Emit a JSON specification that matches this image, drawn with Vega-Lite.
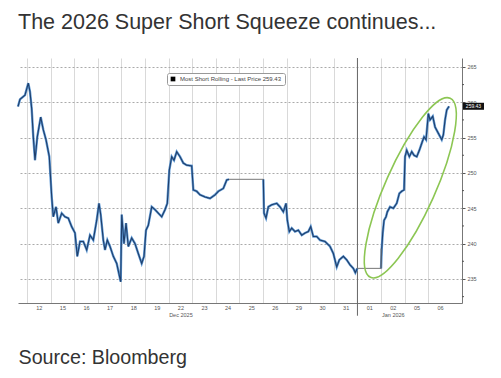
{
  "$schema": "https://vega.github.io/schema/vega-lite/v6.json",
  "width": 444,
  "height": 245,
  "autosize": {"type": "none"},
  "padding": {"left": 18, "top": 58, "right": 39, "bottom": 75},
  "background": "white",
  "config": {"view": {"stroke": null}, "font": "Liberation Sans"},
  "title": {
    "text": "The 2026 Super Short Squeeze continues...",
    "anchor": "start",
    "frame": "group",
    "font": "Liberation Sans",
    "fontSize": 21.5,
    "fontWeight": "normal",
    "color": "#333333",
    "offset": 24
  },
  "datasets": {
    "price": [
      {"x": -0.381, "v": 259.4, "seg": 1}, {"x": -0.297, "v": 260.4, "seg": 1}, {"x": -0.085, "v": 261.0, "seg": 1},
      {"x": 0.055, "v": 262.7, "seg": 1}, {"x": 0.127, "v": 261.5, "seg": 1}, {"x": 0.199, "v": 259.1, "seg": 1},
      {"x": 0.267, "v": 255.1, "seg": 1}, {"x": 0.339, "v": 251.8, "seg": 1}, {"x": 0.436, "v": 255.1, "seg": 1},
      {"x": 0.581, "v": 257.9, "seg": 1}, {"x": 0.691, "v": 256.1, "seg": 1}, {"x": 0.805, "v": 254.7, "seg": 1},
      {"x": 0.945, "v": 252.3, "seg": 1}, {"x": 1.047, "v": 246.6, "seg": 1}, {"x": 1.114, "v": 243.8, "seg": 1},
      {"x": 1.229, "v": 245.2, "seg": 1}, {"x": 1.326, "v": 242.9, "seg": 1}, {"x": 1.47, "v": 244.3, "seg": 1},
      {"x": 1.61, "v": 243.8, "seg": 1}, {"x": 1.75, "v": 243.6, "seg": 1}, {"x": 1.894, "v": 242.4, "seg": 1},
      {"x": 2.034, "v": 241.5, "seg": 1}, {"x": 2.131, "v": 238.2, "seg": 1}, {"x": 2.246, "v": 240.3, "seg": 1},
      {"x": 2.386, "v": 240.3, "seg": 1}, {"x": 2.53, "v": 239.1, "seg": 1}, {"x": 2.669, "v": 241.2, "seg": 1},
      {"x": 2.809, "v": 240.5, "seg": 1}, {"x": 2.953, "v": 243.3, "seg": 1}, {"x": 3.051, "v": 245.7, "seg": 1},
      {"x": 3.123, "v": 244.1, "seg": 1}, {"x": 3.233, "v": 240.5, "seg": 1}, {"x": 3.305, "v": 239.1, "seg": 1},
      {"x": 3.403, "v": 240.5, "seg": 1}, {"x": 3.517, "v": 239.6, "seg": 1}, {"x": 3.657, "v": 238.2, "seg": 1},
      {"x": 3.801, "v": 237.2, "seg": 1}, {"x": 3.97, "v": 234.6, "seg": 1}, {"x": 4.013, "v": 244.1, "seg": 1},
      {"x": 4.11, "v": 240.0, "seg": 1}, {"x": 4.195, "v": 242.9, "seg": 1}, {"x": 4.292, "v": 239.6, "seg": 1},
      {"x": 4.436, "v": 240.8, "seg": 1}, {"x": 4.576, "v": 240.0, "seg": 1}, {"x": 4.716, "v": 238.6, "seg": 1},
      {"x": 4.86, "v": 237.2, "seg": 1}, {"x": 4.958, "v": 238.2, "seg": 1}, {"x": 5.042, "v": 241.9, "seg": 1},
      {"x": 5.14, "v": 242.6, "seg": 1}, {"x": 5.284, "v": 245.2, "seg": 1}, {"x": 5.424, "v": 244.8, "seg": 1},
      {"x": 5.564, "v": 244.3, "seg": 1}, {"x": 5.708, "v": 243.8, "seg": 1}, {"x": 5.847, "v": 244.8, "seg": 1},
      {"x": 5.945, "v": 245.7, "seg": 1}, {"x": 6.03, "v": 250.4, "seg": 1}, {"x": 6.131, "v": 252.3, "seg": 1},
      {"x": 6.229, "v": 251.8, "seg": 1}, {"x": 6.343, "v": 253.0, "seg": 1}, {"x": 6.483, "v": 252.3, "seg": 1},
      {"x": 6.623, "v": 251.4, "seg": 1}, {"x": 6.767, "v": 251.1, "seg": 1}, {"x": 6.979, "v": 251.0, "seg": 1},
      {"x": 7.047, "v": 247.6, "seg": 1}, {"x": 7.191, "v": 247.4, "seg": 1}, {"x": 7.331, "v": 246.9, "seg": 1},
      {"x": 7.542, "v": 246.6, "seg": 1}, {"x": 7.754, "v": 246.4, "seg": 1}, {"x": 7.966, "v": 246.9, "seg": 1},
      {"x": 8.106, "v": 247.4, "seg": 1}, {"x": 8.318, "v": 247.8, "seg": 1}, {"x": 8.462, "v": 249.0, "seg": 1},
      {"x": 8.559, "v": 249.1, "seg": 1},
      {"x": 10.013, "v": 249.1, "seg": 2}, {"x": 10.042, "v": 244.3, "seg": 2}, {"x": 10.127, "v": 243.6, "seg": 2},
      {"x": 10.225, "v": 245.2, "seg": 2}, {"x": 10.369, "v": 245.5, "seg": 2}, {"x": 10.581, "v": 245.7, "seg": 2},
      {"x": 10.72, "v": 245.2, "seg": 2}, {"x": 10.86, "v": 244.5, "seg": 2}, {"x": 10.975, "v": 245.7, "seg": 2},
      {"x": 11.03, "v": 243.3, "seg": 2}, {"x": 11.114, "v": 241.7, "seg": 2}, {"x": 11.216, "v": 242.2, "seg": 2},
      {"x": 11.356, "v": 241.7, "seg": 2}, {"x": 11.496, "v": 241.9, "seg": 2}, {"x": 11.64, "v": 241.2, "seg": 2},
      {"x": 11.78, "v": 241.5, "seg": 2}, {"x": 11.919, "v": 241.7, "seg": 2}, {"x": 12.021, "v": 242.4, "seg": 2},
      {"x": 12.131, "v": 241.0, "seg": 2}, {"x": 12.275, "v": 241.0, "seg": 2}, {"x": 12.415, "v": 240.5, "seg": 2},
      {"x": 12.627, "v": 240.3, "seg": 2}, {"x": 12.839, "v": 239.6, "seg": 2}, {"x": 12.979, "v": 238.6, "seg": 2},
      {"x": 13.123, "v": 236.7, "seg": 2}, {"x": 13.233, "v": 237.7, "seg": 2}, {"x": 13.403, "v": 238.2, "seg": 2},
      {"x": 13.547, "v": 237.7, "seg": 2}, {"x": 13.686, "v": 237.0, "seg": 2}, {"x": 13.826, "v": 236.5, "seg": 2},
      {"x": 13.911, "v": 235.9, "seg": 2}, {"x": 13.996, "v": 236.5, "seg": 2},
      {"x": 15.0, "v": 236.5, "seg": 3}, {"x": 15.03, "v": 239.3, "seg": 3}, {"x": 15.072, "v": 241.5, "seg": 3},
      {"x": 15.127, "v": 243.3, "seg": 3}, {"x": 15.212, "v": 243.8, "seg": 3}, {"x": 15.267, "v": 244.5, "seg": 3},
      {"x": 15.381, "v": 245.2, "seg": 3}, {"x": 15.521, "v": 245.0, "seg": 3}, {"x": 15.665, "v": 245.7, "seg": 3},
      {"x": 15.775, "v": 247.1, "seg": 3}, {"x": 15.877, "v": 247.4, "seg": 3}, {"x": 15.975, "v": 247.6, "seg": 3},
      {"x": 16.017, "v": 252.3, "seg": 3}, {"x": 16.089, "v": 253.2, "seg": 3}, {"x": 16.199, "v": 252.3, "seg": 3},
      {"x": 16.301, "v": 253.0, "seg": 3}, {"x": 16.398, "v": 252.5, "seg": 3}, {"x": 16.513, "v": 252.3, "seg": 3},
      {"x": 16.623, "v": 253.2, "seg": 3}, {"x": 16.725, "v": 254.2, "seg": 3}, {"x": 16.822, "v": 255.1, "seg": 3},
      {"x": 16.907, "v": 254.7, "seg": 3}, {"x": 17.004, "v": 258.4, "seg": 3}, {"x": 17.076, "v": 257.5, "seg": 3},
      {"x": 17.191, "v": 258.0, "seg": 3}, {"x": 17.288, "v": 256.5, "seg": 3}, {"x": 17.428, "v": 255.6, "seg": 3},
      {"x": 17.572, "v": 254.7, "seg": 3}, {"x": 17.64, "v": 255.4, "seg": 3}, {"x": 17.712, "v": 257.5, "seg": 3},
      {"x": 17.784, "v": 258.9, "seg": 3}, {"x": 17.881, "v": 259.43, "seg": 3}
    ],
    "flats": [
      {"x": 8.559, "x2": 10.013, "v": 249.1, "v2": 249.1},
      {"x": 13.996, "x2": 15.0, "v": 236.5, "v2": 236.5},
      {"x": 15.0, "x2": 15.0, "v": 236.5, "v2": 239.3}
    ],
    "divider": [{"x": 14, "v": 229.8, "v2": 266.26}],
    "minor": [{"v": 232.5}, {"v": 237.5}, {"v": 242.5}, {"v": 247.5}, {"v": 252.5}, {"v": 257.5}, {"v": 262.5}],
    "last": [{"v": 259.43, "lbl": "259.43"}],
    "oval": [{"x": 16.24, "v": 247.9}]
  },
  "encoding": {
    "x": {
      "field": "x", "type": "quantitative",
      "scale": {"domain": [-0.381, 18.43], "nice": false, "zero": false},
      "axis": {
        "values": [0,1,2,3,4,5,6,7,8,9,10,11,12,13,14,15,16,17],
        "labelExpr": "['12','15','16','17','18','19',['22','Dec 2025'],'23','24','25','26','29','30','31','01',['02','Jan 2026'],'05','06'][datum.value]",
        "labelOffset": 11.8,
        "labelFontSize": 5.5,
        "labelLineHeight": 7,
        "labelColor": "#555555",
        "labelPadding": 2,
        "labelOverlap": false,
        "labelFlush": false,
        "labelBound": false,
        "grid": true,
        "gridColor": "#d9d9d9",
        "gridWidth": 1,
        "ticks": false,
        "domainColor": "#777777",
        "title": "Source: Bloomberg",
        "titleAnchor": "start",
        "titleAlign": "left",
        "titleFont": "Liberation Sans",
        "titleFontSize": 19.7,
        "titleFontWeight": "normal",
        "titleColor": "#333333",
        "titlePadding": 30
      }
    },
    "y": {
      "field": "v", "type": "quantitative",
      "scale": {"domain": [231.6, 266.26], "nice": false, "zero": false},
      "axis": {
        "orient": "right",
        "values": [235, 240, 245, 250, 255, 260, 265],
        "labelFontSize": 5.5,
        "labelColor": "#555555",
        "labelPadding": 2,
        "labelOverlap": false,
        "grid": true,
        "gridDash": [2, 2],
        "gridColor": "#aaaaaa",
        "tickSize": 3,
        "tickColor": "#555555",
        "domainColor": "#777777",
        "title": null
      }
    }
  },
  "layer": [
    {
      "data": {"name": "divider"},
      "mark": {"type": "rule", "color": "#666666", "strokeWidth": 1},
      "encoding": {"y2": {"field": "v2"}}
    },
    {
      "data": {"name": "price"},
      "mark": {"type": "line", "strokeWidth": 2.4, "color": "#4f8fd0", "opacity": 0.9},
      "encoding": {"detail": {"field": "seg"}}
    },
    {
      "data": {"name": "price"},
      "mark": {"type": "line", "strokeWidth": 1.1},
      "encoding": {
        "detail": {"field": "seg"},
        "color": {
          "datum": "Most Short Rolling - Last Price 259.43",
          "type": "nominal",
          "scale": {"range": ["#1f3f6c"]},
          "legend": {
            "title": null,
            "orient": "none",
            "legendX": 149,
            "legendY": 15,
            "symbolType": "square",
            "symbolSize": 22,
            "labelFontSize": 6,
            "labelColor": "#444444",
            "labelLimit": 300,
            "padding": 3,
            "strokeColor": "#999999",
            "fillColor": "white",
            "cornerRadius": 2,
            "encode": {"symbols": {"update": {"fill": {"value": "black"}, "stroke": {"value": "black"}, "strokeWidth": {"value": 0}}}}
          }
        }
      }
    },
    {
      "data": {"name": "flats"},
      "mark": {"type": "rule", "color": "#777777", "strokeWidth": 1},
      "encoding": {
        "x2": {"field": "x2"},
        "y2": {"field": "v2"}
      }
    },
    {
      "data": {"name": "oval"},
      "mark": {
        "type": "point",
        "shape": "M0,-1C0.1408,-1 0.255,-0.5523 0.255,0C0.255,0.5523 0.1408,1 0,1C-0.1408,1 -0.255,0.5523 -0.255,0C-0.255,-0.5523 -0.1408,-1 0,-1Z",
        "size": 38416,
        "angle": 24,
        "filled": false,
        "stroke": "#8cc653",
        "strokeWidth": 1.6,
        "opacity": 1
      }
    },
    {
      "data": {"name": "minor"},
      "mark": {
        "type": "point",
        "shape": "M0,0H2",
        "size": 4,
        "filled": false,
        "stroke": "#555555",
        "strokeWidth": 1,
        "opacity": 1
      },
      "encoding": {"x": {"value": "width"}}
    },
    {
      "data": {"name": "last"},
      "mark": {
        "type": "point",
        "shape": "M1,-3.5H22V3.5H1Z",
        "size": 4,
        "filled": true,
        "color": "#111111",
        "opacity": 1
      },
      "encoding": {"x": {"value": "width"}}
    },
    {
      "data": {"name": "last"},
      "mark": {"type": "text", "align": "center", "baseline": "middle", "dx": 11.5, "fontSize": 5, "color": "white"},
      "encoding": {
        "x": {"value": "width"},
        "text": {"field": "lbl"}
      }
    }
  ]
}
